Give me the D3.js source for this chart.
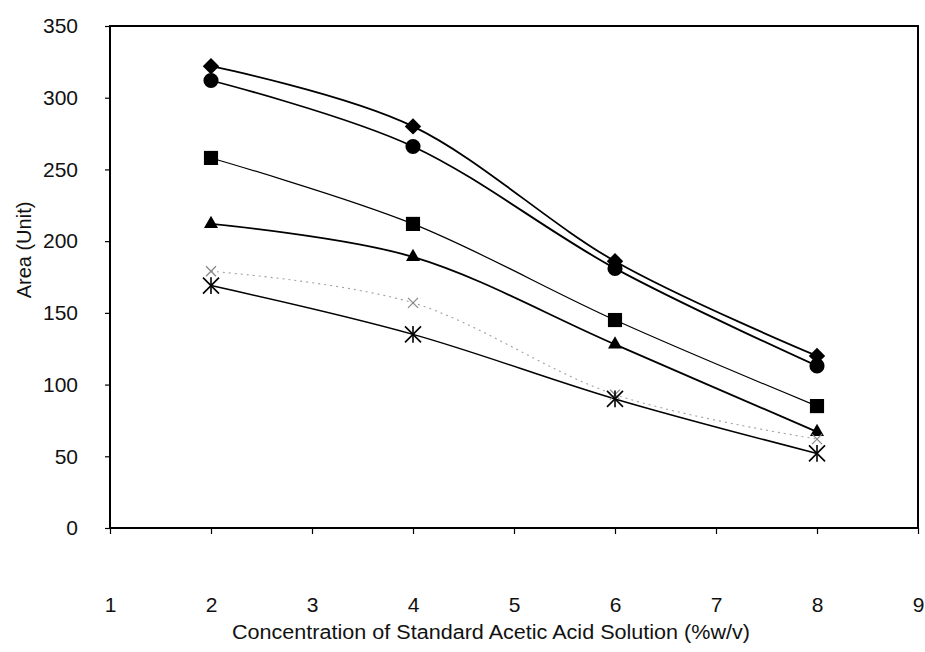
<!DOCTYPE html>
<html>
<head>
<meta charset="utf-8">
<script src="https://cdn.jsdelivr.net/npm/d3@7"></script>
<style>
  html, body { margin: 0; padding: 0; background: #fff; }
  svg text { font-family: "Liberation Sans", Arial, sans-serif; fill: #111; }
</style>
</head>
<body>
<svg id="chart" width="925" height="652"></svg>
<script>
// Concentration levels (%w/v) and peak areas for each standard series
const concentrations = [2, 4, 6, 8];
const diamondSeries  = [322, 280, 186, 120];
const circleSeries   = [312, 266, 181, 113];
const squareSeries   = [258, 212, 145, 85];
const triangleSeries = [212, 189, 128, 67];
const crossSeries    = [179, 157, 93, 62];
const starSeries     = [169, 135, 90, 52];

const xTickValues = [1, 2, 3, 4, 5, 6, 7, 8, 9];
const yTickValues = [0, 50, 100, 150, 200, 250, 300, 350];

const xTitle = "Concentration of Standard Acetic Acid  Solution (%w/v)";
const yTitle = "Area (Unit)";

const series = [
  { values: diamondSeries,  marker: "diamond",  color: "#000", dash: null, width: 1.8 },
  { values: circleSeries,   marker: "circle",   color: "#000", dash: null, width: 1.8 },
  { values: squareSeries,   marker: "square",   color: "#000", dash: null, width: 1.2 },
  { values: triangleSeries, marker: "triangle", color: "#000", dash: null, width: 1.8 },
  { values: crossSeries,    marker: "cross",    color: "#a0a0a0", dash: "2,4", width: 1.1 },
  { values: starSeries,     marker: "star",     color: "#000", dash: null, width: 1.5 }
];

const svg = d3.select("#chart");
const plot = { left: 110, right: 918, top: 26, bottom: 528 };

const x = d3.scaleLinear().domain([1, 9]).range([plot.left, plot.right]);
const y = d3.scaleLinear().domain([0, 350]).range([plot.bottom, plot.top]);

// Plot frame
svg.append("rect")
  .attr("x", plot.left).attr("y", plot.top)
  .attr("width", plot.right - plot.left).attr("height", plot.bottom - plot.top)
  .attr("fill", "none").attr("stroke", "#000").attr("stroke-width", 2);

// Y axis: short outside ticks and labels
const yAxis = d3.axisLeft(y).tickValues(yTickValues).tickSize(5).tickPadding(27);
const yg = svg.append("g").attr("transform", `translate(${plot.left},0)`).call(yAxis);
yg.attr("font-size", null).attr("font-family", null);
yg.select(".domain").remove();
yg.selectAll(".tick line").attr("stroke", "#000").attr("stroke-width", 1.2);
yg.selectAll(".tick text").attr("font-size", 21);

// X axis: tick marks under the frame, labels set well below
const xAxis = d3.axisBottom(x).tickValues(xTickValues).tickSize(6).tickFormat(d3.format("d"));
const xg = svg.append("g").attr("transform", `translate(0,${plot.bottom})`).call(xAxis);
xg.attr("font-size", null).attr("font-family", null);
xg.select(".domain").remove();
xg.selectAll(".tick line").attr("stroke", "#000").attr("stroke-width", 1.2);
xg.selectAll(".tick text").attr("font-size", 21).attr("y", 77).attr("dy", "0.35em");

// Axis titles
svg.append("text")
  .attr("x", 491).attr("y", 639)
  .attr("text-anchor", "middle")
  .attr("font-size", 20)
  .attr("textLength", 518).attr("lengthAdjust", "spacingAndGlyphs")
  .text(xTitle);

svg.append("text")
  .attr("transform", "translate(31,250) rotate(-90)")
  .attr("text-anchor", "middle")
  .attr("font-size", 20)
  .text(yTitle);

// Smoothed series lines
const line = d3.line()
  .x((d, i) => x(concentrations[i]))
  .y(d => y(d))
  .curve(d3.curveCatmullRom.alpha(0));

series.forEach(s => {
  svg.append("path")
    .datum(s.values)
    .attr("d", line)
    .attr("fill", "none")
    .attr("stroke", s.color)
    .attr("stroke-width", s.width)
    .attr("stroke-dasharray", s.dash);
});

// Markers
const symbolFor = {
  diamond:  d3.symbol().type(d3.symbolSquare).size(135),
  circle:   d3.symbol().type(d3.symbolCircle).size(180),
  square:   d3.symbol().type(d3.symbolSquare).size(200),
  triangle: d3.symbol().type(d3.symbolTriangle).size(85)
};

series.forEach(s => {
  const g = svg.append("g");
  s.values.forEach((v, i) => {
    const cx = x(concentrations[i]), cy = y(v);
    if (symbolFor[s.marker]) {
      g.append("path")
        .attr("d", symbolFor[s.marker]())
        .attr("transform", `translate(${cx},${cy})` + (s.marker === "diamond" ? " rotate(45)" : ""))
        .attr("fill", "#000");
    } else if (s.marker === "star") {
      const r = 8;
      const segs = [[-r, -r, r, r], [-r, r, r, -r], [0, -r * 1.05, 0, r * 1.05]];
      segs.forEach(p => g.append("line")
        .attr("x1", cx + p[0]).attr("y1", cy + p[1])
        .attr("x2", cx + p[2]).attr("y2", cy + p[3])
        .attr("stroke", "#000").attr("stroke-width", 1.6));
    } else if (s.marker === "cross") {
      const r = 5;
      [[-r, -r, r, r], [-r, r, r, -r]].forEach(p => g.append("line")
        .attr("x1", cx + p[0]).attr("y1", cy + p[1])
        .attr("x2", cx + p[2]).attr("y2", cy + p[3])
        .attr("stroke", "#888").attr("stroke-width", 1.2));
    }
  });
});
</script>
</body>
</html>
